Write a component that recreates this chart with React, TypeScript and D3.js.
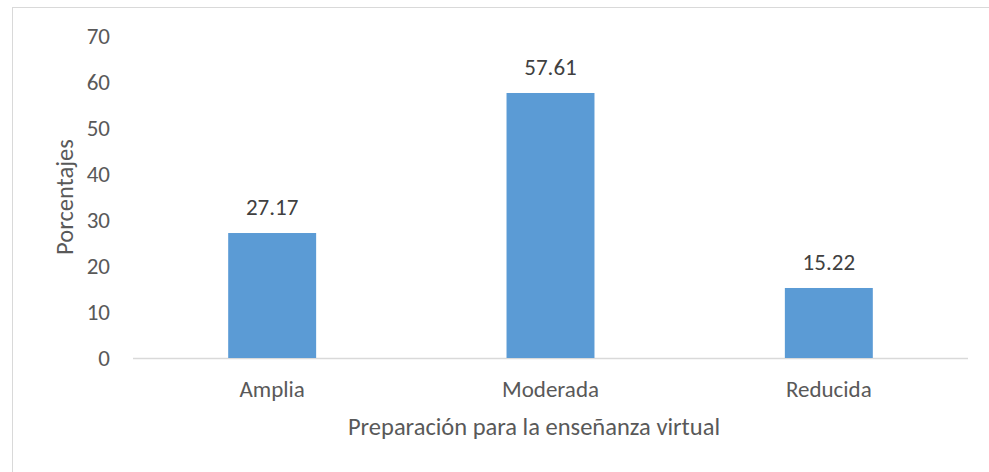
import React from "react";
import * as d3 from "d3";

const categories = ["Amplia", "Moderada", "Reducida"];
const values = [27.17, 57.61, 15.22];
const yTicks = [0, 10, 20, 30, 40, 50, 60, 70];
const yTitle = "Porcentajes";
const xTitle = "Preparación para la enseñanza virtual";

const W = 989;
const H = 472;
const FONT = "Carlito, Lato, 'Open Sans', sans-serif";

export default function App() {
  const x = d3.scaleBand<string>().domain(categories).range([133, 968]).paddingInner(0.684).paddingOuter(0.342);
  const y = d3.scaleLinear().domain([0, 70]).range([358, 36]);
  return (
    <svg width={W} height={H} style={{ position: "absolute", left: 0, top: 0 }}>
      <rect x={0} y={0} width={W} height={H} fill="#fff" />
      <rect x={12.5} y={7.5} width={W + 10} height={H + 10} fill="none" stroke="#d9d9d9" strokeWidth={1} />
      {yTicks.map((t) => (
        <text key={t} x={110} y={y(t)} dy="0.35em" textAnchor="end" fontFamily={FONT} fontSize={23} fill="#595959">
          {t}
        </text>
      ))}
      <line x1={133} x2={968} y1={358.5} y2={358.5} stroke="#d9d9d9" strokeWidth={1.5} />
      {categories.map((c, i) => (
        <g key={c}>
          <rect x={x(c)!} y={y(values[i])} width={x.bandwidth()} height={y(0) - y(values[i])} fill="#5b9bd5" />
          <text x={x(c)! + x.bandwidth() / 2} y={y(values[i]) - 18} textAnchor="middle" fontFamily={FONT} fontSize={23} fill="#404040">
            {values[i].toFixed(2)}
          </text>
          <text x={x(c)! + x.bandwidth() / 2} y={397} textAnchor="middle" fontFamily={FONT} fontSize={23} fill="#595959">
            {c}
          </text>
        </g>
      ))}
      <text x={534} y={435} textAnchor="middle" fontFamily={FONT} fontSize={24.5} fill="#595959">
        {xTitle}
      </text>
      <text transform={`translate(73,${(y(0) + y(70)) / 2}) rotate(-90)`} textAnchor="middle" fontFamily={FONT} fontSize={24.5} fill="#595959">
        {yTitle}
      </text>
    </svg>
  );
}
